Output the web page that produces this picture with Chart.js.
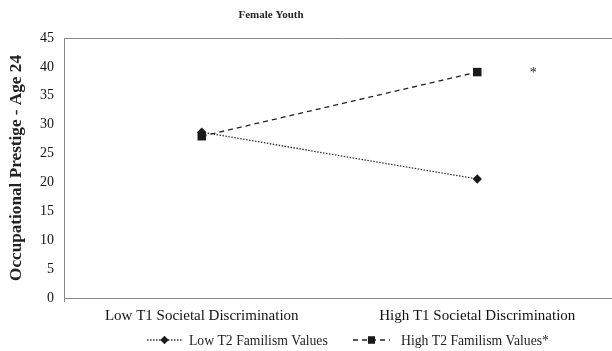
<!DOCTYPE html>
<html>
<head>
<meta charset="utf-8">
<script src="https://cdn.jsdelivr.net/npm/chart.js@4"></script>
<style>
  html, body { margin: 0; padding: 0; background: #fff; overflow: hidden; }
  /* the plot frame runs on past the right edge of the page */
  #wrap { width: 621px; height: 351px; position: relative; }
</style>
</head>
<body>
<div id="wrap"><canvas id="chart"></canvas></div>
<script>
// Occupational prestige at age 24 by T1 societal discrimination, split by T2 familism
const chartTitle = 'Female Youth';
const yAxisTitle = 'Occupational Prestige - Age 24';
const categories = ['Low T1 Societal Discrimination', 'High T1 Societal Discrimination'];
const lowFamilismLabel = 'Low T2 Familism Values';
const highFamilismLabel = 'High T2 Familism Values*';
const lowFamilism = [28.7, 20.6];
const highFamilism = [28.0, 39.1];
const yMin = 0, yMax = 45, yStep = 5;
const significanceMark = '*';

const SERIF = '"Liberation Serif", "Times New Roman", serif';
const AXIS_GREY = '#8a8a8a';

// Frame line along the top of the plot, title, y-axis title, significance mark and legend
const decorations = {
  id: 'decorations',
  afterDraw(chart) {
    const ctx = chart.ctx;
    const a = chart.chartArea;
    ctx.save();

    // top frame line
    ctx.strokeStyle = AXIS_GREY;
    ctx.lineWidth = 1;
    ctx.beginPath();
    ctx.moveTo(a.left, a.top + 0.5);
    ctx.lineTo(chart.width, a.top + 0.5);
    ctx.stroke();

    // small tick below the axis corner
    ctx.beginPath();
    ctx.moveTo(a.left + 0.5, a.bottom);
    ctx.lineTo(a.left + 0.5, a.bottom + 4);
    ctx.stroke();

    // title
    ctx.fillStyle = '#222';
    ctx.font = 'bold 11px ' + SERIF;
    ctx.textAlign = 'center';
    ctx.textBaseline = 'middle';
    ctx.fillText(chartTitle, 271, 15);

    // y-axis title
    ctx.save();
    ctx.translate(17, (a.top + a.bottom) / 2);
    ctx.rotate(-Math.PI / 2);
    ctx.font = 'bold 17.2px ' + SERIF;
    ctx.fillText(yAxisTitle, 0, 0);
    ctx.restore();

    // significance mark beside the high-discrimination point of the starred series
    const hiMeta = chart.getDatasetMeta(1);
    const hiPt = hiMeta.data[1];
    ctx.font = '14px ' + SERIF;
    ctx.fillText(significanceMark, hiPt.x + 56, hiPt.y + 1);

    // legend
    const legendY = 340;
    const items = [
      { ds: chart.data.datasets[0], x0: 147, x1: 182, text: lowFamilismLabel, tx: 189, r: 4 },
      { ds: chart.data.datasets[1], x0: 353, x1: 390, text: highFamilismLabel, tx: 401, r: 5 }
    ];
    items.forEach(it => {
      ctx.save();
      ctx.strokeStyle = it.ds.borderColor;
      ctx.lineWidth = it.ds.borderWidth;
      ctx.setLineDash(it.ds.borderDash);
      ctx.beginPath();
      ctx.moveTo(it.x0, legendY);
      ctx.lineTo(it.x1, legendY);
      ctx.stroke();
      ctx.restore();
      Chart.helpers.drawPoint(ctx, {
        pointStyle: it.ds.pointStyle,
        radius: it.r,
        borderWidth: 0,
        rotation: 0
      }, (it.x0 + it.x1) / 2, legendY);
      ctx.fillStyle = it.ds.pointBackgroundColor;
      ctx.fill();
      ctx.fillStyle = '#222';
      ctx.font = '13.7px ' + SERIF;
      ctx.textAlign = 'left';
      ctx.textBaseline = 'middle';
      ctx.fillText(it.text, it.tx, legendY + 1);
    });

    ctx.restore();
  }
};

new Chart(document.getElementById('chart'), {
  type: 'line',
  data: {
    labels: categories,
    datasets: [
      {
        label: lowFamilismLabel,
        data: lowFamilism,
        borderColor: '#333',
        borderWidth: 1.3,
        borderDash: [1.5, 1.5],
        pointStyle: 'rectRot',
        pointRadius: 4.7,
        pointBackgroundColor: '#1a1a1a',
        pointBorderColor: '#1a1a1a',
        pointBorderWidth: 0,
        tension: 0
      },
      {
        label: highFamilismLabel,
        data: highFamilism,
        borderColor: '#222',
        borderWidth: 1.3,
        borderDash: [5, 4],
        pointStyle: 'rect',
        pointRadius: 6,
        pointBackgroundColor: '#1a1a1a',
        pointBorderColor: '#1a1a1a',
        pointBorderWidth: 0,
        tension: 0
      }
    ]
  },
  options: {
    responsive: true,
    maintainAspectRatio: false,
    animation: false,
    layout: { padding: { top: 38, left: 0, right: 0, bottom: 0 } },
    plugins: {
      legend: { display: false },
      title: { display: false },
      tooltip: { enabled: false }
    },
    scales: {
      x: {
        type: 'category',
        offset: true,
        afterFit(scale) { scale.height = 53; },
        grid: { drawOnChartArea: false, drawTicks: false, color: AXIS_GREY, offset: true },
        border: { display: true, color: AXIS_GREY, width: 1 },
        ticks: {
          color: '#111',
          font: { family: SERIF, size: 15 },
          padding: 9,
          maxRotation: 0,
          autoSkip: false
        }
      },
      y: {
        min: yMin,
        max: yMax,
        afterFit(scale) { scale.width = 64; },
        grid: { drawOnChartArea: false, drawTicks: false },
        border: { display: true, color: AXIS_GREY, width: 1 },
        ticks: {
          stepSize: yStep,
          color: '#111',
          font: { family: SERIF, size: 14 },
          padding: 10
        }
      }
    }
  },
  plugins: [decorations]
});
</script>
</body>
</html>
